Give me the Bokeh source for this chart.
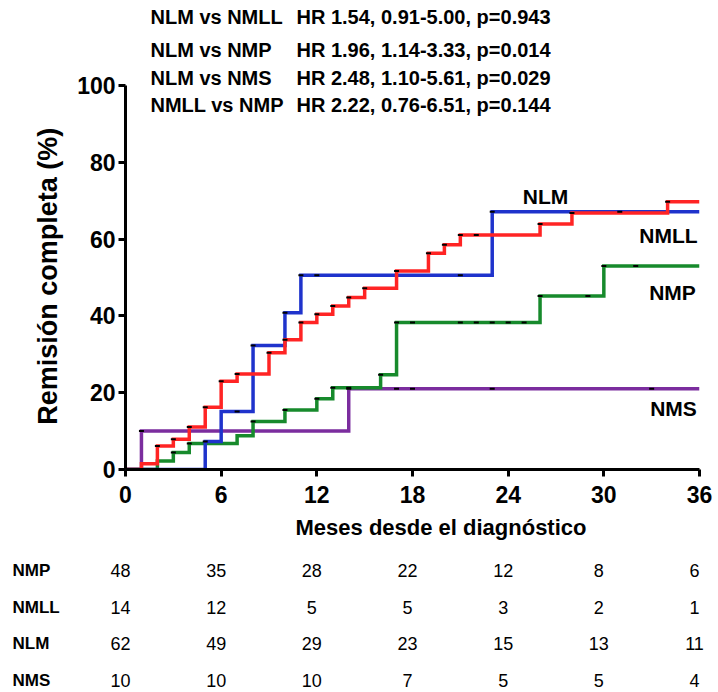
import math
from bokeh.plotting import figure
from bokeh.layouts import column, row
from bokeh.models import Range1d, Label, LabelSet, ColumnDataSource, FixedTicker, Title
from bokeh.core.properties import value
from bokeh.embed import file_html
from bokeh.resources import INLINE

FONT = "Liberation Sans"

# ---------------- data ----------------
nlm_t = [0, 5, 6, 8, 10, 11, 23, 36]
nlm_v = [0, 7.3, 15.1, 32.3, 40.8, 50.6, 67.1, 67.1]
nlm_cens = [5, 7, 8, 10, 11, 12, 21, 23, 31]

nmll_t = [0, 1, 2, 3, 4, 5, 6, 7, 9, 10, 11, 12, 13, 14, 15, 17, 19, 20, 21, 26, 28, 34, 36]
nmll_v = [0, 1.5, 6.1, 7.9, 11.1, 16.2, 23.0, 24.9, 30.4, 33.8, 38.3, 40.4, 42.6, 44.8,
          47.2, 51.7, 56.3, 58.5, 61.1, 63.9, 66.8, 69.7, 69.7]
nmll_cens = [2, 3, 4, 5, 6, 7, 9, 10, 11, 12, 13, 14, 15, 17, 19, 20, 21, 22, 26, 28, 34]

nmp_t = [0, 2, 3, 4, 7, 8, 10, 12, 13, 16, 17, 26, 30, 36]
nmp_v = [0, 2.2, 4.4, 6.8, 8.8, 12.5, 15.5, 18.4, 21.3, 24.7, 38.3, 45.2, 53.0, 53.0]
nmp_cens = [3, 4, 8, 10, 12, 13, 14, 16, 17, 18, 21, 22, 23, 24, 25, 26, 29, 30, 32]

nms_t = [0, 1, 14, 36]
nms_v = [0, 10.0, 21.0, 21.0]
nms_cens = [1, 14, 17, 18, 23, 33]

comparisons = ["NLM vs NMLL", "NLM vs NMP", "NLM vs NMS", "NMLL vs NMP"]
hr_texts = ["HR 1.54, 0.91-5.00, p=0.943",
            "HR 1.96, 1.14-3.33, p=0.014",
            "HR 2.48, 1.10-5.61, p=0.029",
            "HR 2.22, 0.76-6.51, p=0.144"]

x_ticks = [0, 6, 12, 18, 24, 30, 36]
y_ticks = [0, 20, 40, 60, 80, 100]

risk_times = [0, 6, 12, 18, 24, 30, 36]
risk_groups = ["NMP", "NMLL", "NLM", "NMS"]
risk_nmp = [48, 35, 28, 22, 12, 8, 6]
risk_nmll = [14, 12, 5, 5, 3, 2, 1]
risk_nlm = [62, 49, 29, 23, 15, 13, 11]
risk_nms = [10, 10, 10, 7, 5, 5, 4]

# ---------------- layout (page pixels) ----------------
PW, PH = 718, 692
LW = 70                    # width of the y-title strip
FL, FR = 125, 699          # frame left/right (page x)
Y100, Y0P = 85, 469        # page y of 100 % and 0 %
MB = 80                    # bottom border of main plot
MH = Y0P + MB              # main plot height
TH = PH - MH               # table height
SX = (FR - FL) / 36.0
SY = (Y0P - Y100) / 100.0


def mx(page_x):
    return (page_x - FL) / SX


def my(page_y):
    return (Y0P - page_y) / SY


def value_at(ts, vs, t):
    v = vs[0]
    for ti, vi in zip(ts, vs):
        if ti <= t:
            v = vi
    return v


def bare(width, height, xr, yr, **kw):
    f = figure(width=width, height=height, output_backend="svg", toolbar_location=None,
               x_range=xr, y_range=yr, x_axis_location=None, y_axis_location=None,
               min_border=0, **kw)
    f.outline_line_color = None
    f.grid.visible = False
    return f


# ---------------- main plot ----------------
p = figure(width=PW - LW, height=MH, output_backend="svg", toolbar_location=None,
           x_range=Range1d(0, 36), y_range=Range1d(0, my(0)),
           min_border_left=FL - LW, min_border_right=PW - FR, min_border_top=0,
           min_border_bottom=MB)
p.outline_line_color = None
p.grid.visible = False

series = [
    (nms_t, nms_v, nms_cens, "#7b2d9e"),
    (nmp_t, nmp_v, nmp_cens, "#178a2c"),
    (nlm_t, nlm_v, nlm_cens, "#1f33cc"),
    (nmll_t, nmll_v, nmll_cens, "#ff2424"),
]
for ts, vs, cens, col in series:
    p.step(ts, vs, mode="after", line_width=3.5, line_color=col, line_join="miter")
for ts, vs, cens, col in series:
    p.scatter(cens, [value_at(ts, vs, c) for c in cens], marker="dash", size=5,
              line_width=2, line_color="black")

for ax in (p.xaxis[0], p.yaxis[0]):
    ax.axis_line_width = 3
    ax.axis_line_color = "black"
    ax.major_tick_line_width = 3
    ax.major_tick_line_color = "black"
    ax.major_tick_in = 0
    ax.major_tick_out = 7
    ax.minor_tick_line_color = None
    ax.major_label_text_font = FONT
    ax.major_label_text_font_style = "bold"
    ax.major_label_text_font_size = "23px"
    ax.major_label_text_color = "black"

p.xaxis.ticker = FixedTicker(ticks=x_ticks)
p.yaxis.ticker = FixedTicker(ticks=y_ticks)
p.yaxis.bounds = (0, 100)
p.xaxis.major_label_standoff = 9
p.yaxis.major_label_standoff = 3

# x-axis title (starts right of the frame centre, as in the original)
p.add_layout(Title(text="Meses desde el diagnóstico", align="left", offset=170, standoff=15,
                   text_font=FONT, text_font_style="bold", text_font_size="22px",
                   text_color="black"), "below")

# curve labels
for txt, px, py in [("NLM", 545, 196), ("NMLL", 668, 235), ("NMP", 672, 292), ("NMS", 673, 408)]:
    p.add_layout(Label(x=mx(px), y=my(py), text=txt, text_align="center", text_baseline="middle",
                       text_font=FONT, text_font_style="bold", text_font_size="21px",
                       text_color="black"))

# header comparisons
for c, h, py in zip(comparisons, hr_texts, [16, 49, 77, 104]):
    p.add_layout(Label(x=mx(150), y=my(py), text=c, text_align="left", text_baseline="middle",
                       text_font=FONT, text_font_style="bold", text_font_size="20px",
                       text_color="black"))
    p.add_layout(Label(x=mx(296), y=my(py), text=h, text_align="left", text_baseline="middle",
                       text_font=FONT, text_font_style="bold", text_font_size="20px",
                       text_color="black"))

# ---------------- y title strip (frame aligned with the main frame) ----------------
yl = bare(LW, MH, Range1d(0, LW), Range1d(Y0P, 0))
yl.min_border_bottom = MB
yl.add_layout(Label(x=47, y=(Y100 + Y0P) / 2 - 5, text="Remisión completa  (%)", angle=math.pi / 2,
                    text_align="center", text_baseline="middle", text_font=FONT,
                    text_font_style="bold", text_font_size="27px", text_color="black"))

# ---------------- numbers at risk ----------------
tb = bare(PW, TH, Range1d(mx(0), mx(PW)), Range1d(PH, MH))
row_pages = [570, 607, 643, 680]
rows = [risk_nmp, risk_nmll, risk_nlm, risk_nms]
xs, ys, ts = [], [], []
for rp, vals in zip(row_pages, rows):
    for t, v in zip(risk_times, vals):
        xs.append(t)
        ys.append(rp)
        ts.append(str(v))
src = ColumnDataSource(dict(x=xs, y=ys, text=ts))
tb.add_layout(LabelSet(x="x", y="y", text="text", source=src, x_offset=-5,
                       text_align="center", text_baseline="middle",
                       text_font=value(FONT), text_font_size=value("18px"),
                       text_color="black"))
gsrc = ColumnDataSource(dict(x=[mx(12)] * 4, y=row_pages, text=risk_groups))
tb.add_layout(LabelSet(x="x", y="y", text="text", source=gsrc,
                       text_align="left", text_baseline="middle",
                       text_font=value(FONT), text_font_style="bold",
                       text_font_size=value("17px"), text_color="black"))

layout = column(row(yl, p), tb)
open("out.html", "w").write(file_html(layout, INLINE))
